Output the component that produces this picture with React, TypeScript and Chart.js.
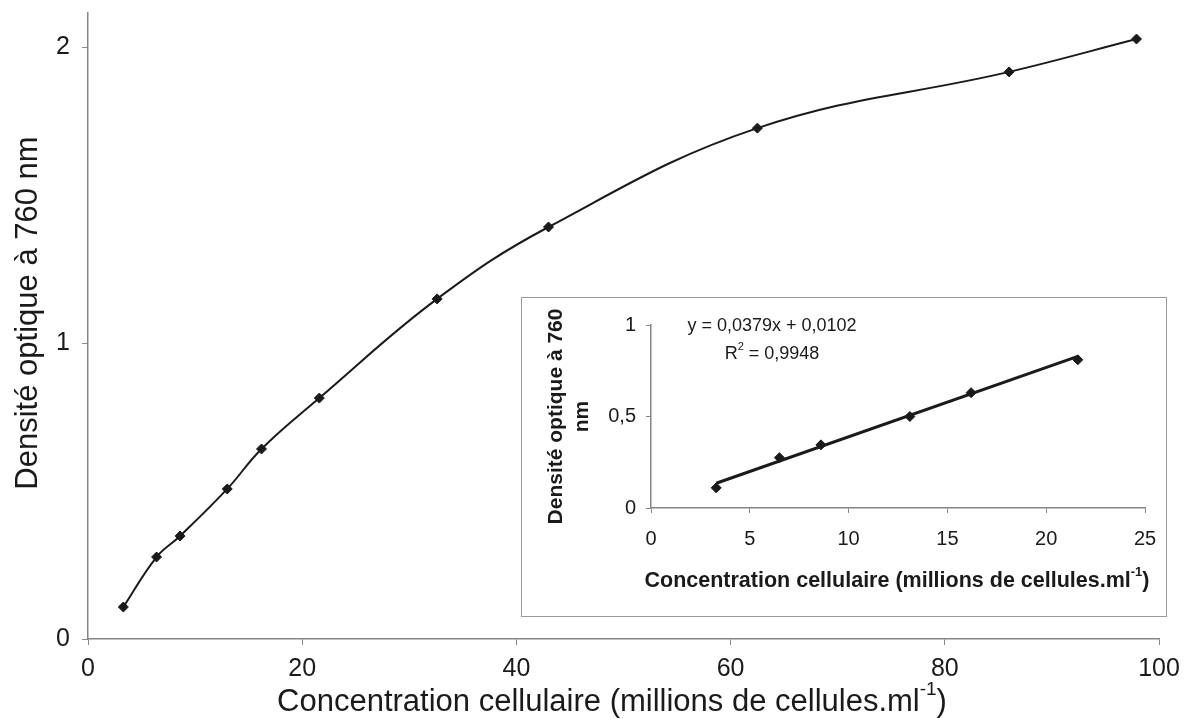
import React, { useEffect, useRef } from 'react';
import { Chart, registerables } from 'chart.js';

Chart.register(...registerables);

// ---- Data ----
const concentration = [3.3, 6.4, 8.6, 13.0, 16.2, 21.6, 32.6, 43.0, 62.5, 86.0, 97.9];
const density = [0.108, 0.277, 0.348, 0.507, 0.642, 0.814, 1.149, 1.392, 1.726, 1.916, 2.027];

const insetConcentration = [3.3, 6.5, 8.6, 13.1, 16.2, 21.6];
const insetDensity = [0.11, 0.275, 0.345, 0.5, 0.63, 0.81];

const trendSlope = 0.0379;
const trendIntercept = 0.0102;
const trendRange = [3.3, 21.6];

const mainXTicks = [0, 20, 40, 60, 80, 100];
const mainYTicks = [0, 1, 2];
const insetXTicks = [0, 5, 10, 15, 20, 25];
const insetYTicks = [0, 0.5, 1];

const FONT = '"Liberation Sans", Arial, Helvetica, sans-serif';
const AXIS_COLOR = '#858585';
const INK = '#1a1a1a';

type Part = { t: string; sup?: boolean };

function drawRich(
  ctx: CanvasRenderingContext2D,
  parts: Part[],
  cx: number,
  cy: number,
  size: number,
  bold: boolean,
  rotate = 0
) {
  const w = bold ? 'bold ' : '';
  const mainFont = `${w}${size}px ${FONT}`;
  const supFont = `${w}${Math.round(size * 0.62)}px ${FONT}`;
  let total = 0;
  const widths = parts.map((p) => {
    ctx.font = p.sup ? supFont : mainFont;
    const m = ctx.measureText(p.t).width;
    total += m;
    return m;
  });
  ctx.save();
  ctx.translate(cx, cy);
  if (rotate) ctx.rotate(rotate);
  ctx.fillStyle = INK;
  ctx.textBaseline = 'middle';
  ctx.textAlign = 'left';
  let x = -total / 2;
  parts.forEach((p, i) => {
    ctx.font = p.sup ? supFont : mainFont;
    ctx.fillText(p.t, x, p.sup ? -size * 0.38 : 0);
    x += widths[i];
  });
  ctx.restore();
}

const noPad = (s: any) => {
  s.paddingTop = 0;
  s.paddingBottom = 0;
  s.paddingLeft = 0;
  s.paddingRight = 0;
};

export default function App() {
  const mainRef = useRef<HTMLCanvasElement>(null);
  const insetRef = useRef<HTMLCanvasElement>(null);

  useEffect(() => {
    const mainCanvas = mainRef.current!;
    const insetCanvas = insetRef.current!;

    const mainTexts = {
      id: 'mainTexts',
      afterDraw(chart: any) {
        const { ctx, chartArea } = chart;
        drawRich(
          ctx,
          [
            { t: 'Concentration cellulaire (millions de cellules.ml' },
            { t: '-1', sup: true },
            { t: ')' },
          ],
          612,
          chartArea.bottom + 63,
          31,
          false
        );
        drawRich(ctx, [{ t: 'Densité optique à 760 nm' }], 28, 313, 31, false, -Math.PI / 2);
      },
    };

    const main = new Chart(mainCanvas, {
      type: 'line',
      data: {
        datasets: [
          {
            data: concentration.map((x, i) => ({ x, y: density[i] })),
            borderColor: INK,
            backgroundColor: INK,
            borderWidth: 2,
            tension: 0.4,
            pointStyle: 'rectRot',
            pointRadius: 5,
            pointBorderWidth: 1,
            pointBackgroundColor: INK,
            pointBorderColor: INK,
          },
        ],
      },
      options: {
        animation: false,
        responsive: false,
        events: [],
        layout: { padding: { left: 0, top: 13, right: 26, bottom: 0 } },
        plugins: { legend: { display: false }, tooltip: { enabled: false } },
        scales: {
          x: {
            type: 'linear',
            min: 0,
            max: 100,
            afterFit: (s: any) => {
              s.height = 80;
              noPad(s);
            },
            afterBuildTicks: (s: any) => {
              s.ticks = mainXTicks.map((v) => ({ value: v }));
            },
            grid: { drawOnChartArea: false, drawTicks: true, tickLength: 6, color: AXIS_COLOR },
            border: { display: true, color: AXIS_COLOR, width: 1.5 },
            ticks: { color: INK, font: { family: FONT, size: 25 }, padding: 9, maxRotation: 0 },
          },
          y: {
            type: 'linear',
            min: 0,
            max: 2.115,
            afterFit: (s: any) => {
              s.width = 88;
              noPad(s);
            },
            afterBuildTicks: (s: any) => {
              s.ticks = mainYTicks.map((v) => ({ value: v }));
            },
            grid: { drawOnChartArea: false, drawTicks: true, tickLength: 6, color: AXIS_COLOR },
            border: { display: true, color: AXIS_COLOR, width: 1.5 },
            ticks: { color: INK, font: { family: FONT, size: 25 }, padding: 12 },
          },
        },
      },
      plugins: [mainTexts],
    } as any);

    const insetTexts = {
      id: 'insetTexts',
      afterDraw(chart: any) {
        const { ctx, chartArea } = chart;
        const midY = (chartArea.top + chartArea.bottom) / 2;
        drawRich(ctx, [{ t: 'Densité optique à 760' }], 34, midY, 21, true, -Math.PI / 2);
        drawRich(ctx, [{ t: 'nm' }], 60, midY, 21, true, -Math.PI / 2);
        drawRich(
          ctx,
          [
            { t: 'Concentration cellulaire (millions de cellules.ml' },
            { t: '-1', sup: true },
            { t: ')' },
          ],
          375,
          chartArea.bottom + 73,
          21.5,
          true
        );
        drawRich(ctx, [{ t: 'y = 0,0379x + 0,0102' }], 250, 28, 18, false);
        drawRich(ctx, [{ t: 'R' }, { t: '2', sup: true }, { t: ' = 0,9948' }], 250, 56, 18, false);
      },
    };

    const inset = new Chart(insetCanvas, {
      type: 'scatter',
      data: {
        datasets: [
          {
            type: 'line',
            data: trendRange.map((x) => ({ x, y: trendSlope * x + trendIntercept })),
            borderColor: INK,
            borderWidth: 3,
            pointRadius: 0,
            tension: 0,
          },
          {
            data: insetConcentration.map((x, i) => ({ x, y: insetDensity[i] })),
            pointStyle: 'rectRot',
            pointRadius: 5,
            pointBackgroundColor: INK,
            pointBorderColor: INK,
            showLine: false,
          },
        ],
      },
      options: {
        animation: false,
        responsive: false,
        events: [],
        layout: { padding: { left: 0, top: 27, right: 20, bottom: 0 } },
        plugins: { legend: { display: false }, tooltip: { enabled: false } },
        scales: {
          x: {
            type: 'linear',
            min: 0,
            max: 25,
            afterFit: (s: any) => {
              s.height = 107;
              noPad(s);
            },
            afterBuildTicks: (s: any) => {
              s.ticks = insetXTicks.map((v) => ({ value: v }));
            },
            grid: { drawOnChartArea: false, drawTicks: true, tickLength: 5, color: AXIS_COLOR },
            border: { display: true, color: AXIS_COLOR, width: 1.5 },
            ticks: { color: INK, font: { family: FONT, size: 20 }, padding: 14, maxRotation: 0 },
          },
          y: {
            type: 'linear',
            min: 0,
            max: 1,
            afterFit: (s: any) => {
              s.width = 129;
              noPad(s);
            },
            afterBuildTicks: (s: any) => {
              s.ticks = insetYTicks.map((v) => ({ value: v }));
            },
            grid: { drawOnChartArea: false, drawTicks: true, tickLength: 5, color: AXIS_COLOR },
            border: { display: true, color: AXIS_COLOR, width: 1.5 },
            ticks: {
              color: INK,
              font: { family: FONT, size: 20 },
              padding: 10,
              callback: (v: any) => String(v).replace('.', ','),
            },
          },
        },
      },
      plugins: [insetTexts],
    } as any);

    return () => {
      main.destroy();
      inset.destroy();
    };
  }, []);

  return (
    <div
      style={{
        position: 'absolute',
        left: 0,
        top: 0,
        width: 1185,
        height: 719,
        background: '#fff',
        overflow: 'hidden',
      }}
    >
      <canvas ref={mainRef} width={1185} height={719} style={{ position: 'absolute', left: 0, top: 0 }} />
      <div
        style={{
          position: 'absolute',
          left: 521,
          top: 297,
          width: 646,
          height: 320,
          boxSizing: 'border-box',
          border: '1.5px solid #9a9a9a',
          background: '#fff',
        }}
      >
        <canvas ref={insetRef} width={643} height={317} style={{ display: 'block' }} />
      </div>
    </div>
  );
}
